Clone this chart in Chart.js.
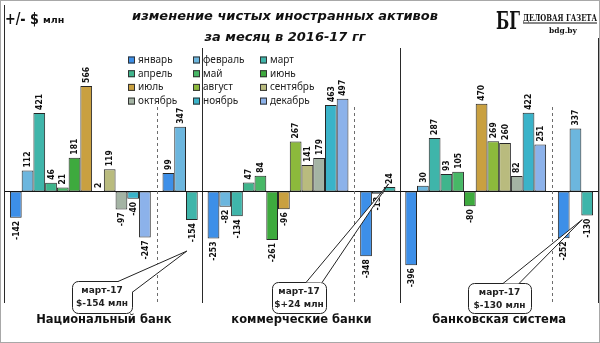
<!DOCTYPE html>
<html>
<head>
<meta charset="utf-8">
<script src="https://cdn.jsdelivr.net/npm/chart.js@4.4.0/dist/chart.umd.min.js"></script>
<style>
  html, body { margin: 0; padding: 0; background: #fff; }
  #wrap { width: 600px; height: 343px; position: relative; }
</style>
</head>
<body>
<div id="wrap"><canvas id="netAssetsChart"></canvas></div>
<script>
const categories = ['Национальный банк', 'коммерческие банки', 'банковская система'];
const months = ['январь', 'февраль', 'март', 'апрель', 'май', 'июнь',
                'июль', 'август', 'сентябрь', 'октябрь', 'ноябрь', 'декабрь'];
const months2017 = ['январь-17', 'февраль-17', 'март-17'];

// one value per month: 12 months of 2016, then Jan-Mar 2017
const nationalBank    = [-142, 112, 421, 46, 21, 181, 566, 2, 119, -97, -40, -247, 99, 347, -154];
const commercialBanks = [-253, -82, -134, 47, 84, -261, -96, 267, 141, 179, 463, 497, -348, -13, 24];
const bankingSystem   = [-396, 30, 287, 93, 105, -80, 470, 269, 260, 82, 422, 251, -252, 337, -130];

const monthColors = ['#3d8fe8', '#6cb6de', '#3fb5aa', '#3fb58c', '#47b866', '#3eaa3e',
                     '#c9a040', '#8cb93c', '#b9bb7e', '#a4b4a4', '#3ab3c9', '#8cb2ea'];

const calloutTitle = 'март-17';
const calloutValues = ['$-154 млн', '$+24 млн', '$-130 млн'];

/* datasets: one per month, plus an empty slot between 2016 and 2017 */
const datasets = [];
months.forEach(function (m, i) {
    datasets.push({
        label: m,
        data: [nationalBank[i], commercialBanks[i], bankingSystem[i]],
        backgroundColor: monthColors[i]
    });
});
datasets.push({ label: '', data: [null, null, null], backgroundColor: 'transparent', spacer: true });
months2017.forEach(function (m, j) {
    const i = 12 + j;
    datasets.push({
        label: m,
        data: [nationalBank[i], commercialBanks[i], bankingSystem[i]],
        backgroundColor: monthColors[j]
    });
});
datasets.forEach(function (d) {
    d.borderColor = '#262626';
    d.borderWidth = 1;
    d.borderSkipped = false;
    d.categoryPercentage = 0.95;
    d.barPercentage = 1.0;
});

const barLabels = {
    id: 'barLabels',
    afterDatasetsDraw(chart) {
        const ctx = chart.ctx;
        ctx.save();
        ctx.font = 'bold 8.5px "DejaVu Sans Condensed", "DejaVu Sans", sans-serif';
        ctx.fillStyle = '#111';
        ctx.textBaseline = 'middle';
        chart.data.datasets.forEach(function (ds, di) {
            if (ds.spacer) return;
            chart.getDatasetMeta(di).data.forEach(function (el, i) {
                const v = ds.data[i];
                ctx.save();
                ctx.translate(el.x, v >= 0 ? el.y - 3 : el.y + 3);
                ctx.rotate(-Math.PI / 2);
                ctx.textAlign = v >= 0 ? 'left' : 'right';
                ctx.fillText(String(v), 0, 0.5);
                ctx.restore();
            });
        });
        ctx.restore();
    }
};

// draw text squeezed to a given width
function fitText(ctx, text, x, y, width) {
    const w = ctx.measureText(text).width;
    ctx.save();
    ctx.translate(x, y);
    ctx.scale(Math.min(1, width / w), 1);
    ctx.fillText(text, 0, 0);
    ctx.restore();
}

const decorations = {
    id: 'decorations',
    beforeDatasetsDraw(chart) {
        const ctx = chart.ctx;
        const area = chart.chartArea;
        const y0 = chart.scales.y.getPixelForValue(0);
        ctx.save();
        // zero line
        ctx.strokeStyle = '#111';
        ctx.lineWidth = 1;
        ctx.beginPath();
        ctx.moveTo(area.left, Math.round(y0) + 0.5);
        ctx.lineTo(area.right, Math.round(y0) + 0.5);
        ctx.stroke();
        // dashed separators between 2016 and 2017
        const dec = chart.getDatasetMeta(11).data;
        const jan = chart.getDatasetMeta(13).data;
        ctx.strokeStyle = '#6d6d6d';
        ctx.setLineDash([3, 3]);
        for (let i = 0; i < dec.length; i++) {
            const x = Math.round((dec[i].x + jan[i].x) / 2) + 0.5;
            ctx.beginPath();
            ctx.moveTo(x, 107);
            ctx.lineTo(x, area.bottom);
            ctx.stroke();
        }
        ctx.restore();
    },
    afterDraw(chart) {
        const ctx = chart.ctx;
        ctx.save();

        /* title block (white, covers separators) */
        ctx.fillStyle = '#fff';
        ctx.fillRect(125, 3, 370, 45);
        ctx.fillStyle = '#111';
        ctx.textAlign = 'center';
        ctx.textBaseline = 'middle';
        ctx.font = 'italic bold 13px "DejaVu Sans", sans-serif';
        ctx.fillText('изменение чистых иностранных активов', 285, 17);
        ctx.fillText('за месяц в 2016-17 гг', 285, 38);

        /* units */
        ctx.textAlign = 'left';
        ctx.font = 'bold 16px "DejaVu Sans", sans-serif';
        fitText(ctx, '+/- $', 5, 20, 34);
        ctx.font = 'bold 9.5px "DejaVu Sans", sans-serif';
        ctx.fillText('млн', 43, 21);

        /* logo */
        ctx.fillStyle = '#fff';
        ctx.fillRect(493, 2, 106, 36);
        ctx.fillStyle = '#111';
        ctx.textBaseline = 'alphabetic';
        ctx.font = 'bold 25px "DejaVu Serif", serif';
        fitText(ctx, 'БГ', 496, 29, 24);
        ctx.font = 'bold 10px "DejaVu Serif", serif';
        fitText(ctx, 'ДЕЛОВАЯ ГАЗЕТА', 523, 21, 74);
        ctx.fillRect(523, 22.5, 74, 1);
        ctx.font = 'bold 7.5px "DejaVu Serif", serif';
        ctx.textAlign = 'center';
        ctx.fillText('bdg.by', 563, 33);

        /* legend, 3 columns x 4 rows */
        ctx.textAlign = 'left';
        ctx.textBaseline = 'middle';
        ctx.font = '10px "Noto Sans", sans-serif';
        const colX = [128, 193, 260];
        months.forEach(function (m, i) {
            const x = colX[i % 3];
            const y = 60 + Math.floor(i / 3) * 13.7;
            ctx.fillStyle = monthColors[i];
            ctx.fillRect(x, y - 3.5, 7, 7);
            ctx.strokeStyle = '#333';
            ctx.lineWidth = 1;
            ctx.strokeRect(x + 0.5, y - 3.5 + 0.5, 6, 6);
            ctx.fillStyle = '#222';
            ctx.fillText(m, x + 10, y);
        });

        /* callouts for March 2017 */
        const mar = chart.getDatasetMeta(15).data;
        const boxes = [
            { x: 72, y: 281, w: 60, h: 32, b1: [118, 281], b2: [132, 292], tip: [mar[0].x - 5, mar[0].y + 31] },
            { x: 272, y: 282, w: 54, h: 31, b1: [306, 282], b2: [322, 282], tip: [mar[1].x - 1, mar[1].y - 3] },
            { x: 468, y: 283, w: 63, h: 30, b1: [503, 283], b2: [519, 283], tip: [mar[2].x - 5, mar[2].y + 4] }
        ];
        boxes.forEach(function (b, i) {
            ctx.fillStyle = '#fff';
            ctx.strokeStyle = '#222';
            ctx.lineWidth = 1;
            ctx.beginPath();
            ctx.roundRect(b.x + 0.5, b.y + 0.5, b.w, b.h, 6);
            ctx.fill();
            ctx.stroke();
            // wedge
            ctx.beginPath();
            ctx.moveTo(b.b1[0], b.b1[1] + 0.5);
            ctx.lineTo(b.tip[0], b.tip[1]);
            ctx.lineTo(b.b2[0], b.b2[1] + 0.5);
            ctx.closePath();
            ctx.fill();
            ctx.beginPath();
            ctx.moveTo(b.b1[0], b.b1[1] + 0.5);
            ctx.lineTo(b.tip[0], b.tip[1]);
            ctx.lineTo(b.b2[0], b.b2[1] + 0.5);
            ctx.stroke();
            ctx.fillStyle = '#222';
            ctx.textAlign = 'center';
            ctx.textBaseline = 'middle';
            ctx.font = 'bold 9px "DejaVu Sans", sans-serif';
            ctx.fillText(calloutTitle, b.x + b.w / 2, b.y + 10);
            ctx.fillText(calloutValues[i], b.x + b.w / 2, b.y + 23);
        });

        /* frame */
        ctx.strokeStyle = '#a8a8a8';
        ctx.lineWidth = 1;
        ctx.strokeRect(0.5, 0.5, 599, 342);
        ctx.restore();
    }
};

new Chart(document.getElementById('netAssetsChart'), {
    type: 'bar',
    data: { labels: categories, datasets: datasets },
    options: {
        responsive: true,
        maintainAspectRatio: false,
        animation: false,
        layout: { padding: { left: 5, top: 5, right: 2, bottom: 6 } },
        plugins: {
            legend: { display: false },
            tooltip: { enabled: false }
        },
        scales: {
            x: {
                grid: { offset: true, color: '#2a2a2a', lineWidth: 1, drawTicks: false },
                border: { display: false },
                ticks: {
                    color: '#111',
                    padding: 10,
                    font: { family: '"DejaVu Sans", sans-serif', weight: 'bold', size: 11.5 }
                }
            },
            y: { display: false, min: -600, max: 1000 }
        }
    },
    plugins: [decorations, barLabels]
});
</script>
</body>
</html>
